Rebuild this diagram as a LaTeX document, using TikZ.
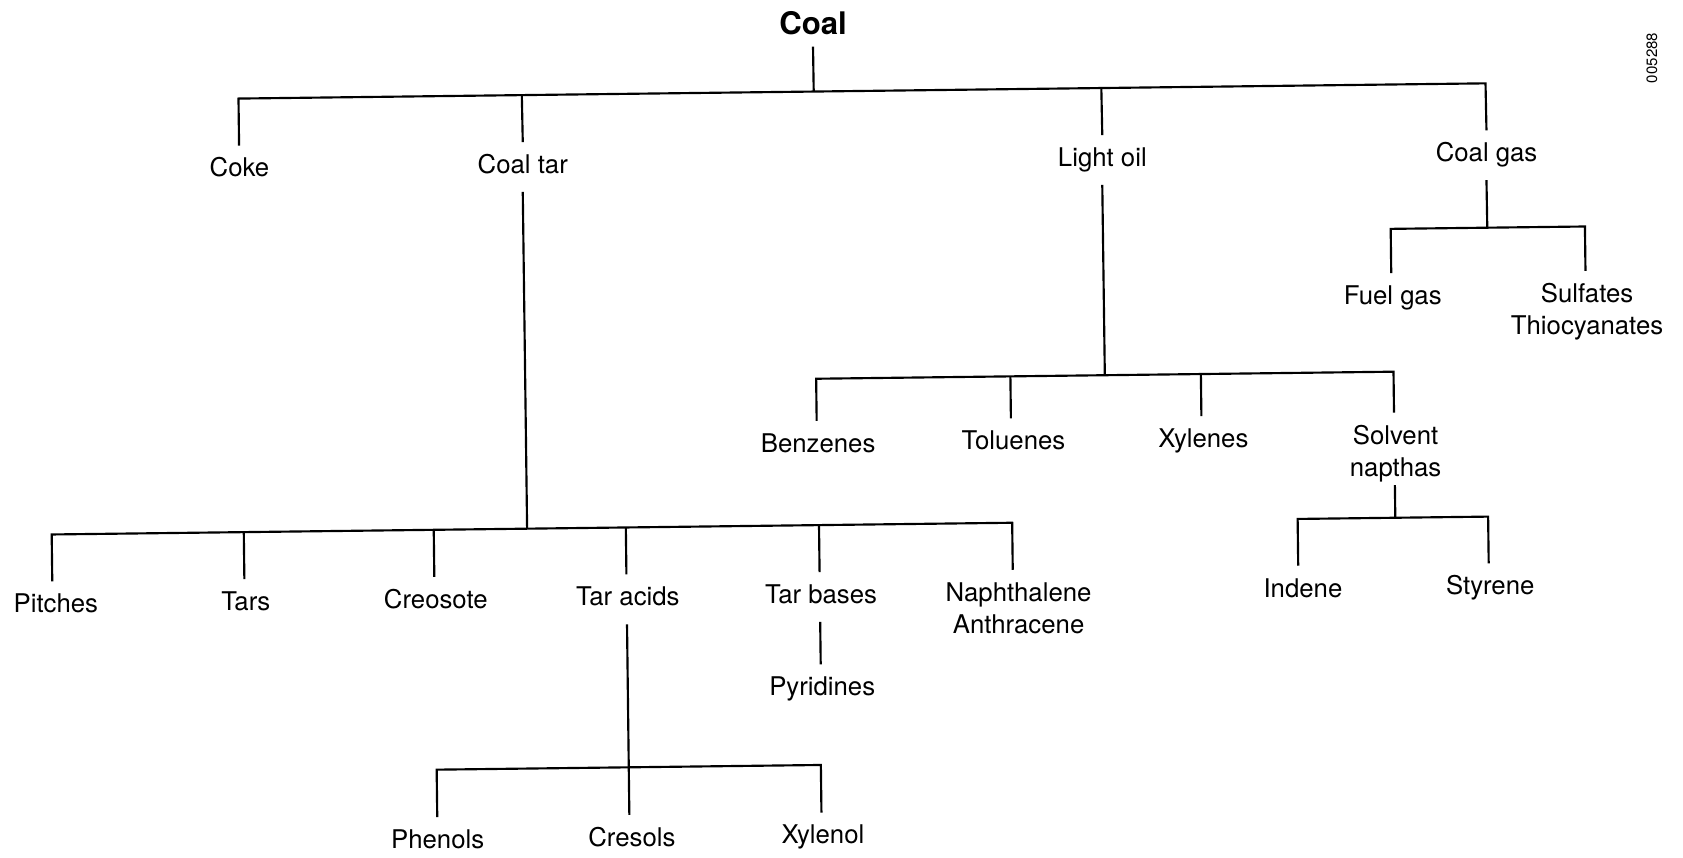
\documentclass[tikz,border=0pt]{standalone}
\usepackage{fontspec}
\setmainfont{TeX Gyre Heros}
\usepackage{array}
\tikzset{
  wire/.style={line width=2pt, line join=miter},
  lbl/.style={font=\fontsize{24}{30}\selectfont, anchor=base, inner xsep=2pt, inner ysep=12pt, text height=17pt, text depth=5pt},
  rootlbl/.style={font=\fontsize{29}{35}\selectfont\bfseries, anchor=base, inner xsep=2pt, inner ysep=11pt, text height=21pt, text depth=0pt},
  twoline/.style={text depth=26pt},
  codelbl/.style={font=\fontsize{14}{14}\selectfont, rotate=90, inner sep=0pt}
}
\newcommand{\twol}[2]{\begin{tabular}[t]{@{}c@{}}#1\\#2\end{tabular}}
\begin{document}
\begin{tikzpicture}[x=1pt,y=1pt]
\useasboundingbox (0,0) rectangle (1568,-799);
\begin{scope}[rotate around={0.7:(784,-400)}]
% level 0
\node[rootlbl] (coal) at (762,-32) {Coal};
\coordinate (j0) at (762,-85);
% level 1
\coordinate (t-coke) at (226,-85);
\coordinate (t-coaltar) at (490,-85);
\coordinate (t-lightoil) at (1030,-85);
\coordinate (t-coalgas) at (1388,-85);
\node[lbl] (coke) at (226,-158) {Coke};
\node[lbl] (coaltar) at (490,-158) {Coal tar};
\node[lbl] (lightoil) at (1030,-158) {Light oil};
\node[lbl] (coalgas) at (1388,-158) {Coal gas};
% coal tar children
\coordinate (j-coaltar) at (490,-489);
\coordinate (t-pitches) at (47,-489);
\coordinate (t-tars) at (226,-489);
\coordinate (t-creosote) at (403,-489);
\coordinate (t-taracids) at (582,-489);
\coordinate (t-tarbases) at (762,-489);
\coordinate (t-naph) at (942,-489);
\node[lbl] (pitches) at (50,-562) {Pitches};
\node[lbl] (tars) at (227,-562) {Tars};
\node[lbl] (creosote) at (404,-562) {Creosote};
\node[lbl] (taracids) at (583,-562) {Tar acids};
\node[lbl] (tarbases) at (763,-562) {Tar bases};
\node[lbl,twoline] (naph) at (947,-562) {\twol{Naphthalene}{Anthracene}};
\node[lbl] (pyridines) at (763,-648) {Pyridines};
% tar acids children
\coordinate (j-taracids) at (582,-712.5);
\coordinate (t-phenols) at (403,-712.5);
\coordinate (t-cresols) at (582,-712.5);
\coordinate (t-xylenol) at (761,-712.5);
\node[lbl] (phenols) at (403,-786) {Phenols};
\node[lbl] (cresols) at (584,-786) {Cresols};
\node[lbl] (xylenol) at (762,-786) {Xylenol};
% light oil children
\coordinate (j-lightoil) at (1030,-352.6);
\coordinate (t-benzenes) at (761,-352.6);
\coordinate (t-toluenes) at (942,-352.6);
\coordinate (t-xylenes) at (1119.5,-352.6);
\coordinate (t-solvent) at (1299,-352.6);
\node[lbl] (benzenes) at (762,-421) {Benzenes};
\node[lbl] (toluenes) at (944,-421) {Toluenes};
\node[lbl] (xylenes) at (1121,-421) {Xylenes};
\node[lbl,twoline] (solvent) at (1300,-420) {\twol{Solvent}{napthas}};
% solvent children
\coordinate (j-solvent) at (1299,-488.7);
\coordinate (t-indene) at (1208,-488.7);
\coordinate (t-styrene) at (1385.5,-488.7);
\node[lbl] (indene) at (1212,-561.5) {Indene};
\node[lbl] (styrene) at (1386.5,-561.5) {Styrene};
% coal gas children
\coordinate (j-coalgas) at (1388,-219.5);
\coordinate (t-fuelgas) at (1298,-219.5);
\coordinate (t-sulfates) at (1479,-219.5);
\node[lbl] (fuelgas) at (1299,-290) {Fuel gas};
\node[lbl,twoline] (sulfates) at (1480,-290) {\twol{Sulfates}{Thiocyanates}};
% connectors
\draw[wire] (coal.south) -- (j0);
\draw[wire] (t-coke |- coke.north) -- (t-coke) -- (t-coalgas) -- (coalgas.north);
\draw[wire] (t-coaltar) -- (coaltar.north);
\draw[wire] (t-lightoil) -- (lightoil.north);
\draw[wire] (coaltar.south) -- (j-coaltar);
\draw[wire] (t-pitches |- pitches.north) -- (t-pitches) -- (t-naph) -- (t-naph |- naph.north);
\draw[wire] (t-tars) -- (t-tars |- tars.north);
\draw[wire] (t-creosote) -- (t-creosote |- creosote.north);
\draw[wire] (t-taracids) -- (t-taracids |- taracids.north);
\draw[wire] (t-tarbases) -- (t-tarbases |- tarbases.north);
\draw[wire] (t-tarbases |- tarbases.south) -- (t-tarbases |- pyridines.north);
\draw[wire] (t-taracids |- taracids.south) -- (j-taracids);
\draw[wire] (t-phenols |- phenols.north) -- (t-phenols) -- (t-xylenol) -- (t-xylenol |- xylenol.north);
\draw[wire] (t-cresols) -- (t-cresols |- cresols.north);
\draw[wire] (lightoil.south) -- (j-lightoil);
\draw[wire] (t-benzenes |- benzenes.north) -- (t-benzenes) -- (t-solvent) -- (t-solvent |- solvent.north);
\draw[wire] (t-toluenes) -- (t-toluenes |- toluenes.north);
\draw[wire] (t-xylenes) -- (t-xylenes |- xylenes.north);
\draw[wire] (t-solvent |- solvent.south) -- (j-solvent);
\draw[wire] (t-indene |- indene.north) -- (t-indene) -- (t-styrene) -- (t-styrene |- styrene.north);
\draw[wire] (coalgas.south) -- (j-coalgas);
\draw[wire] (t-fuelgas |- fuelgas.north) -- (t-fuelgas) -- (t-sulfates) -- (t-sulfates |- sulfates.north);
\end{scope}
\node[codelbl] (code) at (1539,-54) {005288};
\end{tikzpicture}
\end{document}
